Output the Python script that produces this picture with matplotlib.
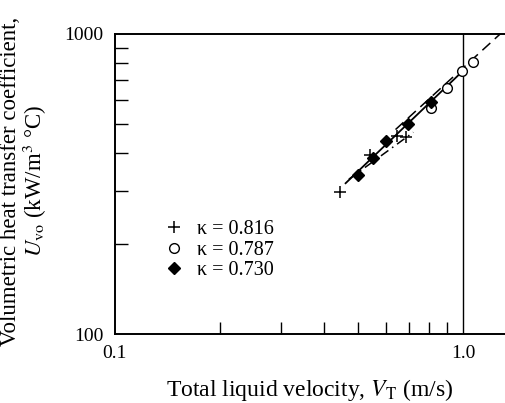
import matplotlib.pyplot as plt
from matplotlib.ticker import FixedLocator, LogLocator, NullFormatter

plt.rcParams['font.family'] = ['Liberation Serif', 'DejaVu Serif']
plt.rcParams['mathtext.fontset'] = 'stix'

# Measured points, total liquid velocity [m/s] vs U_vo [kW/m3 C]
plus_v = [0.443, 0.541, 0.646, 0.686]
plus_u = [297, 395, 457, 452]
circ_v = [0.809, 0.899, 0.993, 1.068]
circ_u = [567, 661, 753, 807]
diam_v = [0.499, 0.551, 0.601, 0.695, 0.809]
diam_u = [339, 386, 440, 501, 593]

# Correlation lines
solid_v = [0.46, 0.99]
solid_u = [318, 745]
dashdot_v = [0.47, 0.72]
dashdot_u = [328, 470]
dash_v = [0.64, 1.28]
dash_u = [480, 1000]

labels = ['κ = 0.816', 'κ = 0.787', 'κ = 0.730']

fig = plt.figure(figsize=(5.06, 4.03), dpi=100)
ax = fig.add_axes([0.227, 0.171, 0.773, 0.745])

ax.plot(solid_v, solid_u, 'k-', lw=1.3)
ax.plot(dashdot_v, dashdot_u, 'k-.', lw=1.1, dashes=(6, 3, 1, 3))
ax.plot(dash_v, dash_u, 'k--', lw=1.1, dashes=(7, 4))
ax.axvline(1.0, color='k', lw=1.0)

h1, = ax.plot(plus_v, plus_u, 'k+', ms=9, mew=1.1, ls='none')
h2, = ax.plot(circ_v, circ_u, 'o', mfc='white', mec='k', ms=7, mew=1.0, ls='none')
h3, = ax.plot(diam_v, diam_u, 'kD', ms=6, ls='none')

ax.set_xscale('log')
ax.set_yscale('log')
ax.set_xlim(0.1, 1.329)
ax.set_ylim(100, 1000)

ax.xaxis.set_major_locator(FixedLocator([0.1, 1.0]))
ax.set_xticklabels(['0.1', '1.0'])
ax.yaxis.set_major_locator(FixedLocator([100, 1000]))
ax.set_yticklabels(['100', '1000'])
ax.xaxis.set_minor_locator(LogLocator(base=10, subs=range(2, 10)))
ax.yaxis.set_minor_locator(LogLocator(base=10, subs=range(2, 10)))
ax.xaxis.set_minor_formatter(NullFormatter())
ax.yaxis.set_minor_formatter(NullFormatter())
ax.tick_params(which='both', direction='in', width=1.0)
ax.tick_params(which='major', length=0, pad=8, labelsize=14)
ax.tick_params(which='minor', length=9)

ax.spines['right'].set_visible(False)
for s in ['left', 'bottom', 'top']:
    ax.spines[s].set_linewidth(1.4)

ax.set_xlabel('Total liquid velocity, $V_{\\rm T}$ (m/s)', fontsize=17, va='center')
ax.xaxis.set_label_coords(0.499, -0.185)
ax.set_ylabel('Volumetric heat transfer coefficient,\n$U_{\\rm vo}$ (kW/m$^3$ °C)',
              fontsize=16.5, linespacing=1.0, va='center')
ax.yaxis.set_label_coords(-0.232, 0.51)

ax.legend([h1, h2, h3], labels, loc='center left', bbox_to_anchor=(0.08, 0.28),
          frameon=False, fontsize=14.5, handlelength=1.0, handletextpad=0.6,
          labelspacing=0.08)

fig.savefig('out.png', dpi=100)
